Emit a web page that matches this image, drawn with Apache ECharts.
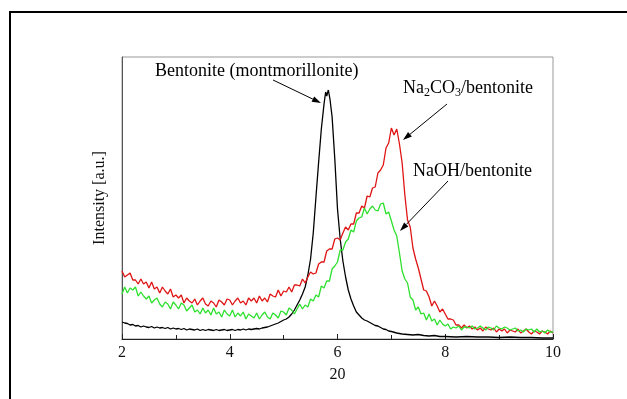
<!DOCTYPE html>
<html>
<head>
<meta charset="utf-8">
<script src="https://cdn.jsdelivr.net/npm/echarts@6/dist/echarts.min.js"></script>
<style>
html,body{margin:0;padding:0;background:#fff;}
#c{width:627px;height:399px;}
</style>
</head>
<body>
<div id="c"></div>
<script>
// 2θ positions shared by the Na2CO3 and NaOH scans
var twoTheta = [2.00,2.05,2.10,2.15,2.20,2.25,2.30,2.35,2.40,2.45,2.50,2.55,2.60,2.65,2.70,2.75,2.80,2.85,2.90,2.95,
3.00,3.05,3.10,3.15,3.20,3.25,3.30,3.35,3.40,3.45,3.50,3.55,3.60,3.65,3.70,3.75,3.80,3.85,3.90,3.95,
4.00,4.05,4.10,4.15,4.20,4.25,4.30,4.35,4.40,4.45,4.50,4.55,4.60,4.65,4.70,4.75,4.80,4.85,4.90,4.95,
5.00,5.05,5.10,5.15,5.20,5.25,5.30,5.35,5.40,5.45,5.50,5.55,5.60,5.65,5.70,5.75,5.80,5.85,5.90,5.95,
6.00,6.05,6.10,6.15,6.20,6.25,6.30,6.35,6.40,6.45,6.50,6.55,6.60,6.65,6.70,6.75,6.80,6.85,6.90,6.95,
7.00,7.05,7.10,7.15,7.20,7.25,7.30,7.35,7.40,7.45,7.50,7.55,7.60,7.65,7.70,7.75,7.80,7.85,7.90,7.95,
8.00,8.05,8.10,8.15,8.20,8.25,8.30,8.35,8.40,8.45,8.50,8.55,8.60,8.65,8.70,8.75,8.80,8.85,8.90,8.95,
9.00,9.05,9.10,9.15,9.20,9.25,9.30,9.35,9.40,9.45,9.50,9.55,9.60,9.65,9.70,9.75,9.80,9.85,9.90,9.95,10.00];

var na2co3 = [68,62,64,66,59,59,55,60,55,57,51,57,50,52,46,52,48,45,50,42,
44,41,44,36,41,38,36,40,34,38,41,35,33,38,36,32,39,37,34,40,
39,34,38,41,36,38,34,41,38,41,36,43,38,41,37,45,43,42,49,43,
48,47,52,47,54,54,53,60,56,62,67,65,66,75,77,77,88,90,90,100,
101,99,106,112,109,115,115,126,126,133,131,143,142,151,152,166,169,174,191,196,
211,204,210,195,176,144,119,112,91,80,71,60,49,48,42,33,38,33,27,30,
25,20,20,19,14,14,11,14,11,13,10,12,9,11,8,12,10,9,11,7,
10,8,10,6,9,8,7,10,6,8,10,7,5,8,7,5,8,7,5,8,6];

var naoh = [45,52,46,51,49,52,43,47,43,40,43,36,39,41,35,32,37,35,30,37,
34,30,36,34,28,31,34,27,29,25,31,26,29,24,31,25,27,22,29,25,
23,29,22,26,23,27,20,25,23,21,26,20,24,27,22,20,26,24,21,28,
27,24,31,29,25,30,35,30,34,32,40,38,44,42,53,51,58,58,70,73,
77,89,89,97,100,109,107,118,121,122,131,125,130,133,129,128,135,136,125,127,
118,109,103,86,68,60,56,42,39,29,32,25,26,19,25,18,20,14,19,15,
13,15,10,12,11,13,9,12,12,11,13,10,11,13,11,9,12,11,9,13,
11,10,12,11,9,10,11,8,9,7,10,9,10,7,10,7,8,6,9,7,7];

// Bentonite scan as [2θ, intensity] pairs
var bentonite = [[2.00,17],[2.05,16],[2.10,15.5],[2.15,14],[2.20,14.5],[2.25,13],[2.30,13.5],[2.35,12],[2.40,13],[2.45,12],
[2.50,11.5],[2.55,12.5],[2.60,11],[2.65,12],[2.70,11],[2.75,11.5],[2.80,10.5],[2.85,11.5],[2.90,10],[2.95,11],
[3.00,10],[3.05,10.5],[3.10,9.5],[3.15,10.5],[3.20,9],[3.25,10],[3.30,9.5],[3.35,9],[3.40,10],[3.45,8.5],
[3.50,9.5],[3.55,8.5],[3.60,9.5],[3.65,9],[3.70,8.5],[3.75,9.5],[3.80,8.5],[3.85,9],[3.90,9.5],[3.95,8.5],
[4.00,9],[4.05,9.5],[4.10,8.5],[4.15,9.5],[4.20,9],[4.25,10],[4.30,9],[4.35,10],[4.40,9.5],[4.45,10],
[4.50,10.5],[4.55,10],[4.60,11],[4.65,11.5],[4.70,12],[4.75,13],[4.80,14],[4.85,15],[4.90,16],[4.95,17.5],
[5.00,19],[5.05,20],[5.10,22],[5.15,25],[5.20,29],[5.25,34],[5.30,39],[5.35,45],[5.40,52],[5.45,64],
[5.50,80],[5.55,106],[5.60,142],[5.65,177],[5.70,210],[5.75,235],[5.78,247],[5.80,243],[5.83,249],[5.86,240],
[5.90,222],[5.95,180],[6.00,130],[6.05,100],[6.10,78],[6.15,62],[6.20,49],[6.25,40],[6.30,33],[6.35,27],
[6.40,24],[6.45,21],[6.50,19],[6.55,18],[6.60,16.5],[6.65,15],[6.70,13.5],[6.75,13],[6.80,11.5],[6.85,10],
[6.90,9.5],[6.95,8],[7.00,7.5],[7.10,6],[7.20,5],[7.30,4.5],[7.40,4],[7.50,4.5],[7.60,3.5],[7.70,3],
[7.80,3.5],[7.90,2.5],[8.00,2.5],[8.20,2],[8.40,2.5],[8.60,2],[8.80,2],[9.00,1.5],[9.20,2],[9.40,1.5],
[9.60,1.5],[9.80,1],[10.00,1]];

var xTicks = [2, 4, 6, 8, 10];

function pairs(xs, ys) { return xs.map(function (x, i) { return [x, ys[i]]; }); }

var FONT = '"Liberation Serif", "Times New Roman", serif';

function arrow(x1, y1, x2, y2) {
  var dx = x2 - x1, dy = y2 - y1, L = Math.sqrt(dx * dx + dy * dy);
  var ux = dx / L, uy = dy / L, hl = 9, hw = 3;
  var bx = x2 - ux * hl, by = y2 - uy * hl;
  return [
    { type: 'line', shape: { x1: x1, y1: y1, x2: bx, y2: by }, style: { stroke: '#000', lineWidth: 1 }, z: 100 },
    { type: 'polygon', shape: { points: [[x2, y2], [bx - uy * hw, by + ux * hw], [bx + uy * hw, by - ux * hw]] }, style: { fill: '#000' }, z: 100 }
  ];
}

var chart = echarts.init(document.getElementById('c'), null, { renderer: 'canvas' });

var graphics = [
  { type: 'rect', shape: { x: 10, y: 12, width: 700, height: 500 }, style: { fill: 'none', stroke: '#000', lineWidth: 2 }, z: 0, silent: true },
  { type: 'text', left: 155, top: 62, style: { text: 'Bentonite (montmorillonite)', font: '18px ' + FONT, fill: '#000' }, z: 100 },
  { type: 'text', left: 403, top: 79, style: {
      text: '{n|Na}{s|2}{n|CO}{s|3}{n|/bentonite}',
      rich: {
        n: { fontFamily: FONT, fontSize: 18, fill: '#000', lineHeight: 26, verticalAlign: 'top' },
        s: { fontFamily: FONT, fontSize: 12, fill: '#000', lineHeight: 26, verticalAlign: 'top', padding: [8, 0, 0, 0] }
      } }, z: 100 },
  { type: 'text', left: 413, top: 162, style: { text: 'NaOH/bentonite', font: '18px ' + FONT, fill: '#000' }, z: 100 }
];
graphics = graphics.concat(arrow(273, 80, 321, 103), arrow(447, 104, 403, 140), arrow(448, 181, 400, 231));

chart.setOption({
  animation: false,
  backgroundColor: '#fff',
  grid: { left: 122, top: 57, width: 431, height: 282, show: true, borderColor: '#999', borderWidth: 1, backgroundColor: 'transparent' },
  xAxis: {
    type: 'value', min: 2, max: 10, interval: 2,
    name: '20', nameLocation: 'middle', nameGap: 28,
    nameTextStyle: { fontFamily: FONT, fontSize: 16, color: '#111' },
    axisLine: { show: true, onZero: false, lineStyle: { color: '#222', width: 1 } },
    axisTick: { show: true, inside: true, length: 5, lineStyle: { color: '#222' } },
    minorTick: { show: true, splitNumber: 2, length: 4, lineStyle: { color: '#222' } },
    splitLine: { show: false },
    axisLabel: { fontFamily: FONT, fontSize: 16, color: '#111', margin: 6,
      formatter: function (v) { return xTicks.indexOf(v) >= 0 ? String(v) : ''; } }
  },
  yAxis: {
    type: 'value', min: 0, max: 282,
    name: 'Intensity [a.u.]', nameLocation: 'middle', nameGap: 14, nameRotate: 90,
    nameTextStyle: { fontFamily: FONT, fontSize: 16, color: '#111' },
    axisLine: { show: true, lineStyle: { color: '#555', width: 1 } },
    axisTick: { show: false }, axisLabel: { show: false }, splitLine: { show: false }
  },
  series: [
    { type: 'line', name: 'Bentonite', data: bentonite, showSymbol: false, lineStyle: { color: '#000', width: 1.3 }, z: 3 },
    { type: 'line', name: 'Na2CO3', data: pairs(twoTheta, na2co3), showSymbol: false, lineStyle: { color: '#e01414', width: 1.3 }, z: 4 },
    { type: 'line', name: 'NaOH', data: pairs(twoTheta, naoh), showSymbol: false, lineStyle: { color: '#2ee02e', width: 1.3 }, z: 5 }
  ],
  graphic: graphics
});
</script>
</body>
</html>
